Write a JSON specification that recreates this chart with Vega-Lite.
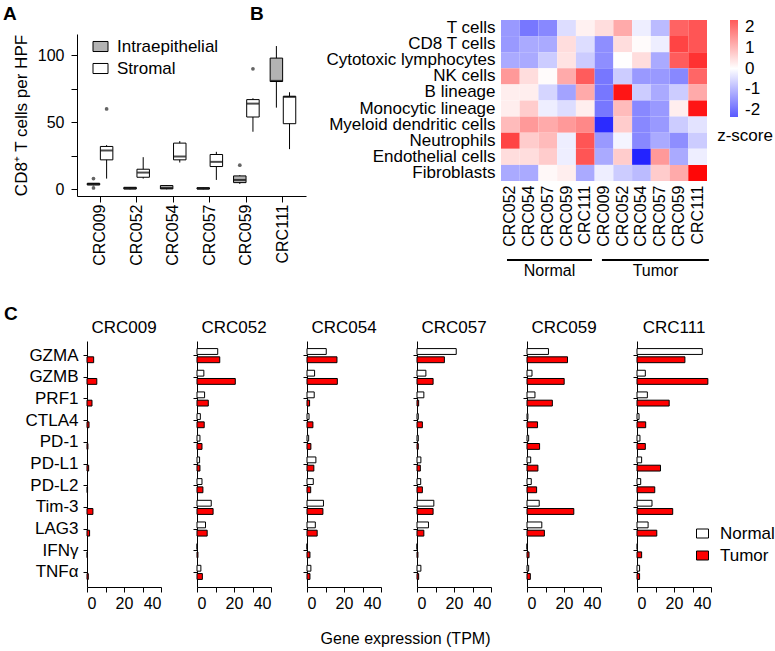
{
  "$schema": "https://vega.github.io/schema/vega-lite/v6.json",
  "background": "white",
  "padding": {"left": 3, "top": 4, "right": 0, "bottom": 0},
  "config": {
    "font": "Liberation Sans",
    "view": {"stroke": null},
    "axis": {"grid": false, "labelFontSize": 16, "titleFontSize": 17, "titleFontWeight": "normal", "labelColor": "black", "titleColor": "black", "domainColor": "black", "tickColor": "black", "titleLimit": 400},
    "legend": {"labelColor": "black", "titleColor": "black", "labelFontSize": 17, "titleFontSize": 17, "titleFontWeight": "normal", "padding": 0},
    "title": {"color": "black"}
  },
  "datasets": {
    "cd8box": [
      {"patient": "CRC009", "type": "Intraepithelial", "min": 3, "q1": 3.2, "med": 4, "q3": 4.5, "max": 4.5},
      {"patient": "CRC009", "type": "Stromal", "min": 8, "q1": 22, "med": 29, "q3": 32, "max": 33},
      {"patient": "CRC052", "type": "Intraepithelial", "min": 0, "q1": 0.2, "med": 0.8, "q3": 1.5, "max": 1.5},
      {"patient": "CRC052", "type": "Stromal", "min": 8, "q1": 9, "med": 12.5, "q3": 15, "max": 24},
      {"patient": "CRC054", "type": "Intraepithelial", "min": 0, "q1": 0.3, "med": 1, "q3": 2.8, "max": 3},
      {"patient": "CRC054", "type": "Stromal", "min": 20, "q1": 22, "med": 24.5, "q3": 34.5, "max": 36},
      {"patient": "CRC057", "type": "Intraepithelial", "min": 0, "q1": 0.2, "med": 0.6, "q3": 1.2, "max": 1.2},
      {"patient": "CRC057", "type": "Stromal", "min": 7, "q1": 17, "med": 20.5, "q3": 26, "max": 28},
      {"patient": "CRC059", "type": "Intraepithelial", "min": 4, "q1": 5, "med": 7, "q3": 10, "max": 10.5},
      {"patient": "CRC059", "type": "Stromal", "min": 43, "q1": 54, "med": 64, "q3": 67, "max": 68},
      {"patient": "CRC111", "type": "Intraepithelial", "min": 61, "q1": 80.5, "med": 81, "q3": 98, "max": 107},
      {"patient": "CRC111", "type": "Stromal", "min": 30, "q1": 49, "med": 69, "q3": 69.5, "max": 72.5}
    ],
    "outliers": [
      {"patient": "CRC009", "type": "Intraepithelial", "value": 8},
      {"patient": "CRC009", "type": "Intraepithelial", "value": 1},
      {"patient": "CRC009", "type": "Stromal", "value": 60},
      {"patient": "CRC059", "type": "Intraepithelial", "value": 18},
      {"patient": "CRC059", "type": "Stromal", "value": 90}
    ],
    "groups": [
      {"group": "Normal", "x0": 0.32, "x1": 4.86, "mid": 2.59},
      {"group": "Tumor", "x0": 5.39, "x1": 11.1, "mid": 8.25}
    ],
    "heat": [
      {"cell": "T cells", "sample": "N-CRC052", "z": -1.44}, {"cell": "T cells", "sample": "N-CRC054", "z": -1.92}, {"cell": "T cells", "sample": "N-CRC057", "z": -1.68}, {"cell": "T cells", "sample": "N-CRC059", "z": -0.48}, {"cell": "T cells", "sample": "N-CRC111", "z": 0.2}, {"cell": "T cells", "sample": "T-CRC009", "z": 0.48}, {"cell": "T cells", "sample": "T-CRC052", "z": 1.2}, {"cell": "T cells", "sample": "T-CRC054", "z": -0.24}, {"cell": "T cells", "sample": "T-CRC057", "z": -0.96}, {"cell": "T cells", "sample": "T-CRC059", "z": 2.2}, {"cell": "T cells", "sample": "T-CRC111", "z": 2.4},
      {"cell": "CD8 T cells", "sample": "N-CRC052", "z": -1.44}, {"cell": "CD8 T cells", "sample": "N-CRC054", "z": -1.2}, {"cell": "CD8 T cells", "sample": "N-CRC057", "z": -1.2}, {"cell": "CD8 T cells", "sample": "N-CRC059", "z": 0.48}, {"cell": "CD8 T cells", "sample": "N-CRC111", "z": -0.48}, {"cell": "CD8 T cells", "sample": "T-CRC009", "z": -1.6}, {"cell": "CD8 T cells", "sample": "T-CRC052", "z": 0.48}, {"cell": "CD8 T cells", "sample": "T-CRC054", "z": 0.05}, {"cell": "CD8 T cells", "sample": "T-CRC057", "z": -0.24}, {"cell": "CD8 T cells", "sample": "T-CRC059", "z": 2.64}, {"cell": "CD8 T cells", "sample": "T-CRC111", "z": 2.4},
      {"cell": "Cytotoxic lymphocytes", "sample": "N-CRC052", "z": -1.2}, {"cell": "Cytotoxic lymphocytes", "sample": "N-CRC054", "z": -1.2}, {"cell": "Cytotoxic lymphocytes", "sample": "N-CRC057", "z": -0.72}, {"cell": "Cytotoxic lymphocytes", "sample": "N-CRC059", "z": 0.4}, {"cell": "Cytotoxic lymphocytes", "sample": "N-CRC111", "z": -0.72}, {"cell": "Cytotoxic lymphocytes", "sample": "T-CRC009", "z": -1.6}, {"cell": "Cytotoxic lymphocytes", "sample": "T-CRC052", "z": 0.02}, {"cell": "Cytotoxic lymphocytes", "sample": "T-CRC054", "z": 0.48}, {"cell": "Cytotoxic lymphocytes", "sample": "T-CRC057", "z": -1.2}, {"cell": "Cytotoxic lymphocytes", "sample": "T-CRC059", "z": 2.3}, {"cell": "Cytotoxic lymphocytes", "sample": "T-CRC111", "z": 2.9},
      {"cell": "NK cells", "sample": "N-CRC052", "z": 1.44}, {"cell": "NK cells", "sample": "N-CRC054", "z": 0.48}, {"cell": "NK cells", "sample": "N-CRC057", "z": 0.05}, {"cell": "NK cells", "sample": "N-CRC059", "z": 1.2}, {"cell": "NK cells", "sample": "N-CRC111", "z": 2.3}, {"cell": "NK cells", "sample": "T-CRC009", "z": -1.92}, {"cell": "NK cells", "sample": "T-CRC052", "z": -0.72}, {"cell": "NK cells", "sample": "T-CRC054", "z": -1.44}, {"cell": "NK cells", "sample": "T-CRC057", "z": -1.44}, {"cell": "NK cells", "sample": "T-CRC059", "z": -1.68}, {"cell": "NK cells", "sample": "T-CRC111", "z": 2.16},
      {"cell": "B lineage", "sample": "N-CRC052", "z": 0.24}, {"cell": "B lineage", "sample": "N-CRC054", "z": 0.24}, {"cell": "B lineage", "sample": "N-CRC057", "z": -0.6}, {"cell": "B lineage", "sample": "N-CRC059", "z": -1.3}, {"cell": "B lineage", "sample": "N-CRC111", "z": 1.2}, {"cell": "B lineage", "sample": "T-CRC009", "z": -1.92}, {"cell": "B lineage", "sample": "T-CRC052", "z": 3.3}, {"cell": "B lineage", "sample": "T-CRC054", "z": -0.72}, {"cell": "B lineage", "sample": "T-CRC057", "z": -1.2}, {"cell": "B lineage", "sample": "T-CRC059", "z": -0.72}, {"cell": "B lineage", "sample": "T-CRC111", "z": 1.2},
      {"cell": "Monocytic lineage", "sample": "N-CRC052", "z": 0.24}, {"cell": "Monocytic lineage", "sample": "N-CRC054", "z": 0.72}, {"cell": "Monocytic lineage", "sample": "N-CRC057", "z": -0.24}, {"cell": "Monocytic lineage", "sample": "N-CRC059", "z": -0.48}, {"cell": "Monocytic lineage", "sample": "N-CRC111", "z": 0.24}, {"cell": "Monocytic lineage", "sample": "T-CRC009", "z": -1.92}, {"cell": "Monocytic lineage", "sample": "T-CRC052", "z": 0.96}, {"cell": "Monocytic lineage", "sample": "T-CRC054", "z": -1.68}, {"cell": "Monocytic lineage", "sample": "T-CRC057", "z": -1.44}, {"cell": "Monocytic lineage", "sample": "T-CRC059", "z": 0.24}, {"cell": "Monocytic lineage", "sample": "T-CRC111", "z": 3.3},
      {"cell": "Myeloid dendritic cells", "sample": "N-CRC052", "z": 0.96}, {"cell": "Myeloid dendritic cells", "sample": "N-CRC054", "z": 1.44}, {"cell": "Myeloid dendritic cells", "sample": "N-CRC057", "z": 1.2}, {"cell": "Myeloid dendritic cells", "sample": "N-CRC059", "z": 1.44}, {"cell": "Myeloid dendritic cells", "sample": "N-CRC111", "z": 1.68}, {"cell": "Myeloid dendritic cells", "sample": "T-CRC009", "z": -3.0}, {"cell": "Myeloid dendritic cells", "sample": "T-CRC052", "z": 0.72}, {"cell": "Myeloid dendritic cells", "sample": "T-CRC054", "z": -1.68}, {"cell": "Myeloid dendritic cells", "sample": "T-CRC057", "z": -1.44}, {"cell": "Myeloid dendritic cells", "sample": "T-CRC059", "z": -0.72}, {"cell": "Myeloid dendritic cells", "sample": "T-CRC111", "z": -0.4},
      {"cell": "Neutrophils", "sample": "N-CRC052", "z": 2.64}, {"cell": "Neutrophils", "sample": "N-CRC054", "z": 0.72}, {"cell": "Neutrophils", "sample": "N-CRC057", "z": 0.96}, {"cell": "Neutrophils", "sample": "N-CRC059", "z": -0.24}, {"cell": "Neutrophils", "sample": "N-CRC111", "z": 2.4}, {"cell": "Neutrophils", "sample": "T-CRC009", "z": -1.44}, {"cell": "Neutrophils", "sample": "T-CRC052", "z": -0.15}, {"cell": "Neutrophils", "sample": "T-CRC054", "z": -1.68}, {"cell": "Neutrophils", "sample": "T-CRC057", "z": -1.2}, {"cell": "Neutrophils", "sample": "T-CRC059", "z": -1.6}, {"cell": "Neutrophils", "sample": "T-CRC111", "z": -0.72},
      {"cell": "Endothelial cells", "sample": "N-CRC052", "z": 0.48}, {"cell": "Endothelial cells", "sample": "N-CRC054", "z": 0.48}, {"cell": "Endothelial cells", "sample": "N-CRC057", "z": 0.72}, {"cell": "Endothelial cells", "sample": "N-CRC059", "z": -0.24}, {"cell": "Endothelial cells", "sample": "N-CRC111", "z": 2.4}, {"cell": "Endothelial cells", "sample": "T-CRC009", "z": -1.2}, {"cell": "Endothelial cells", "sample": "T-CRC052", "z": 0.72}, {"cell": "Endothelial cells", "sample": "T-CRC054", "z": -3.1}, {"cell": "Endothelial cells", "sample": "T-CRC057", "z": 1.44}, {"cell": "Endothelial cells", "sample": "T-CRC059", "z": -1.2}, {"cell": "Endothelial cells", "sample": "T-CRC111", "z": -0.24},
      {"cell": "Fibroblasts", "sample": "N-CRC052", "z": -1.2}, {"cell": "Fibroblasts", "sample": "N-CRC054", "z": -1.2}, {"cell": "Fibroblasts", "sample": "N-CRC057", "z": 0.1}, {"cell": "Fibroblasts", "sample": "N-CRC059", "z": 0.24}, {"cell": "Fibroblasts", "sample": "N-CRC111", "z": -1.2}, {"cell": "Fibroblasts", "sample": "T-CRC009", "z": -0.24}, {"cell": "Fibroblasts", "sample": "T-CRC052", "z": -0.72}, {"cell": "Fibroblasts", "sample": "T-CRC054", "z": -0.96}, {"cell": "Fibroblasts", "sample": "T-CRC057", "z": 0.72}, {"cell": "Fibroblasts", "sample": "T-CRC059", "z": 1.2}, {"cell": "Fibroblasts", "sample": "T-CRC111", "z": 3.5}
    ],
    "genes": [
      {"patient": "CRC009", "gene": "GZMA", "tissue": "Tumor", "tpm": 3.6},
      {"patient": "CRC009", "gene": "GZMB", "tissue": "Tumor", "tpm": 5.3},
      {"patient": "CRC009", "gene": "PRF1", "tissue": "Tumor", "tpm": 2.7},
      {"patient": "CRC009", "gene": "CTLA4", "tissue": "Tumor", "tpm": 1.1},
      {"patient": "CRC009", "gene": "PD-1", "tissue": "Tumor", "tpm": 0.5},
      {"patient": "CRC009", "gene": "PD-L1", "tissue": "Tumor", "tpm": 0.9},
      {"patient": "CRC009", "gene": "PD-L2", "tissue": "Tumor", "tpm": 0.3},
      {"patient": "CRC009", "gene": "Tim-3", "tissue": "Tumor", "tpm": 3.2},
      {"patient": "CRC009", "gene": "LAG3", "tissue": "Tumor", "tpm": 1.4},
      {"patient": "CRC009", "gene": "IFNγ", "tissue": "Tumor", "tpm": 0.2},
      {"patient": "CRC009", "gene": "TNFα", "tissue": "Tumor", "tpm": 0.7},
      {"patient": "CRC052", "gene": "GZMA", "tissue": "Normal", "tpm": 11.2}, {"patient": "CRC052", "gene": "GZMA", "tissue": "Tumor", "tpm": 12.3},
      {"patient": "CRC052", "gene": "GZMB", "tissue": "Normal", "tpm": 3.7}, {"patient": "CRC052", "gene": "GZMB", "tissue": "Tumor", "tpm": 20.7},
      {"patient": "CRC052", "gene": "PRF1", "tissue": "Normal", "tpm": 4.1}, {"patient": "CRC052", "gene": "PRF1", "tissue": "Tumor", "tpm": 6.1},
      {"patient": "CRC052", "gene": "CTLA4", "tissue": "Normal", "tpm": 1.8}, {"patient": "CRC052", "gene": "CTLA4", "tissue": "Tumor", "tpm": 3.9},
      {"patient": "CRC052", "gene": "PD-1", "tissue": "Normal", "tpm": 1.6}, {"patient": "CRC052", "gene": "PD-1", "tissue": "Tumor", "tpm": 2.7},
      {"patient": "CRC052", "gene": "PD-L1", "tissue": "Normal", "tpm": 1.4}, {"patient": "CRC052", "gene": "PD-L1", "tissue": "Tumor", "tpm": 1.6},
      {"patient": "CRC052", "gene": "PD-L2", "tissue": "Normal", "tpm": 2.7}, {"patient": "CRC052", "gene": "PD-L2", "tissue": "Tumor", "tpm": 3.2},
      {"patient": "CRC052", "gene": "Tim-3", "tissue": "Normal", "tpm": 7.7}, {"patient": "CRC052", "gene": "Tim-3", "tissue": "Tumor", "tpm": 8.7},
      {"patient": "CRC052", "gene": "LAG3", "tissue": "Normal", "tpm": 4.6}, {"patient": "CRC052", "gene": "LAG3", "tissue": "Tumor", "tpm": 5.5},
      {"patient": "CRC052", "gene": "IFNγ", "tissue": "Normal", "tpm": 0.05}, {"patient": "CRC052", "gene": "IFNγ", "tissue": "Tumor", "tpm": 0.5},
      {"patient": "CRC052", "gene": "TNFα", "tissue": "Normal", "tpm": 2.1}, {"patient": "CRC052", "gene": "TNFα", "tissue": "Tumor", "tpm": 2.9},
      {"patient": "CRC054", "gene": "GZMA", "tissue": "Normal", "tpm": 10.4}, {"patient": "CRC054", "gene": "GZMA", "tissue": "Tumor", "tpm": 16.2},
      {"patient": "CRC054", "gene": "GZMB", "tissue": "Normal", "tpm": 4.1}, {"patient": "CRC054", "gene": "GZMB", "tissue": "Tumor", "tpm": 16.4},
      {"patient": "CRC054", "gene": "PRF1", "tissue": "Normal", "tpm": 3.9}, {"patient": "CRC054", "gene": "PRF1", "tissue": "Tumor", "tpm": 1.4},
      {"patient": "CRC054", "gene": "CTLA4", "tissue": "Normal", "tpm": 1.1}, {"patient": "CRC054", "gene": "CTLA4", "tissue": "Tumor", "tpm": 3.2},
      {"patient": "CRC054", "gene": "PD-1", "tissue": "Normal", "tpm": 0.9}, {"patient": "CRC054", "gene": "PD-1", "tissue": "Tumor", "tpm": 2.1},
      {"patient": "CRC054", "gene": "PD-L1", "tissue": "Normal", "tpm": 4.8}, {"patient": "CRC054", "gene": "PD-L1", "tissue": "Tumor", "tpm": 3.7},
      {"patient": "CRC054", "gene": "PD-L2", "tissue": "Normal", "tpm": 3.4}, {"patient": "CRC054", "gene": "PD-L2", "tissue": "Tumor", "tpm": 2.0},
      {"patient": "CRC054", "gene": "Tim-3", "tissue": "Normal", "tpm": 8.9}, {"patient": "CRC054", "gene": "Tim-3", "tissue": "Tumor", "tpm": 8.6},
      {"patient": "CRC054", "gene": "LAG3", "tissue": "Normal", "tpm": 4.5}, {"patient": "CRC054", "gene": "LAG3", "tissue": "Tumor", "tpm": 5.5},
      {"patient": "CRC054", "gene": "IFNγ", "tissue": "Normal", "tpm": 0}, {"patient": "CRC054", "gene": "IFNγ", "tissue": "Tumor", "tpm": 1.6},
      {"patient": "CRC054", "gene": "TNFα", "tissue": "Normal", "tpm": 2.1}, {"patient": "CRC054", "gene": "TNFα", "tissue": "Tumor", "tpm": 1.6},
      {"patient": "CRC057", "gene": "GZMA", "tissue": "Normal", "tpm": 21.2}, {"patient": "CRC057", "gene": "GZMA", "tissue": "Tumor", "tpm": 14.8},
      {"patient": "CRC057", "gene": "GZMB", "tissue": "Normal", "tpm": 4.8}, {"patient": "CRC057", "gene": "GZMB", "tissue": "Tumor", "tpm": 8.7},
      {"patient": "CRC057", "gene": "PRF1", "tissue": "Normal", "tpm": 3.7}, {"patient": "CRC057", "gene": "PRF1", "tissue": "Tumor", "tpm": 0.9},
      {"patient": "CRC057", "gene": "CTLA4", "tissue": "Normal", "tpm": 0.7}, {"patient": "CRC057", "gene": "CTLA4", "tissue": "Tumor", "tpm": 2.9},
      {"patient": "CRC057", "gene": "PD-1", "tissue": "Normal", "tpm": 0.7}, {"patient": "CRC057", "gene": "PD-1", "tissue": "Tumor", "tpm": 0.7},
      {"patient": "CRC057", "gene": "PD-L1", "tissue": "Normal", "tpm": 2.1}, {"patient": "CRC057", "gene": "PD-L1", "tissue": "Tumor", "tpm": 1.8},
      {"patient": "CRC057", "gene": "PD-L2", "tissue": "Normal", "tpm": 2.0}, {"patient": "CRC057", "gene": "PD-L2", "tissue": "Tumor", "tpm": 2.9},
      {"patient": "CRC057", "gene": "Tim-3", "tissue": "Normal", "tpm": 9.1}, {"patient": "CRC057", "gene": "Tim-3", "tissue": "Tumor", "tpm": 8.7},
      {"patient": "CRC057", "gene": "LAG3", "tissue": "Normal", "tpm": 6.2}, {"patient": "CRC057", "gene": "LAG3", "tissue": "Tumor", "tpm": 3.7},
      {"patient": "CRC057", "gene": "IFNγ", "tissue": "Normal", "tpm": 0}, {"patient": "CRC057", "gene": "IFNγ", "tissue": "Tumor", "tpm": 0.5},
      {"patient": "CRC057", "gene": "TNFα", "tissue": "Normal", "tpm": 2.1}, {"patient": "CRC057", "gene": "TNFα", "tissue": "Tumor", "tpm": 0.9},
      {"patient": "CRC059", "gene": "GZMA", "tissue": "Normal", "tpm": 11.6}, {"patient": "CRC059", "gene": "GZMA", "tissue": "Tumor", "tpm": 21.9},
      {"patient": "CRC059", "gene": "GZMB", "tissue": "Normal", "tpm": 2.7}, {"patient": "CRC059", "gene": "GZMB", "tissue": "Tumor", "tpm": 20.1},
      {"patient": "CRC059", "gene": "PRF1", "tissue": "Normal", "tpm": 4.3}, {"patient": "CRC059", "gene": "PRF1", "tissue": "Tumor", "tpm": 13.7},
      {"patient": "CRC059", "gene": "CTLA4", "tissue": "Normal", "tpm": 0.5}, {"patient": "CRC059", "gene": "CTLA4", "tissue": "Tumor", "tpm": 5.7},
      {"patient": "CRC059", "gene": "PD-1", "tissue": "Normal", "tpm": 0.9}, {"patient": "CRC059", "gene": "PD-1", "tissue": "Tumor", "tpm": 6.8},
      {"patient": "CRC059", "gene": "PD-L1", "tissue": "Normal", "tpm": 2.0}, {"patient": "CRC059", "gene": "PD-L1", "tissue": "Tumor", "tpm": 5.9},
      {"patient": "CRC059", "gene": "PD-L2", "tissue": "Normal", "tpm": 2.3}, {"patient": "CRC059", "gene": "PD-L2", "tissue": "Tumor", "tpm": 5.2},
      {"patient": "CRC059", "gene": "Tim-3", "tissue": "Normal", "tpm": 6.6}, {"patient": "CRC059", "gene": "Tim-3", "tissue": "Tumor", "tpm": 25.3},
      {"patient": "CRC059", "gene": "LAG3", "tissue": "Normal", "tpm": 8.0}, {"patient": "CRC059", "gene": "LAG3", "tissue": "Tumor", "tpm": 9.4},
      {"patient": "CRC059", "gene": "IFNγ", "tissue": "Normal", "tpm": 0}, {"patient": "CRC059", "gene": "IFNγ", "tissue": "Tumor", "tpm": 1.1},
      {"patient": "CRC059", "gene": "TNFα", "tissue": "Normal", "tpm": 0.9}, {"patient": "CRC059", "gene": "TNFα", "tissue": "Tumor", "tpm": 1.8},
      {"patient": "CRC111", "gene": "GZMA", "tissue": "Normal", "tpm": 35.3}, {"patient": "CRC111", "gene": "GZMA", "tissue": "Tumor", "tpm": 25.9},
      {"patient": "CRC111", "gene": "GZMB", "tissue": "Normal", "tpm": 4.5}, {"patient": "CRC111", "gene": "GZMB", "tissue": "Tumor", "tpm": 38.3},
      {"patient": "CRC111", "gene": "PRF1", "tissue": "Normal", "tpm": 5.6}, {"patient": "CRC111", "gene": "PRF1", "tissue": "Tumor", "tpm": 17.4},
      {"patient": "CRC111", "gene": "CTLA4", "tissue": "Normal", "tpm": 1.1}, {"patient": "CRC111", "gene": "CTLA4", "tissue": "Tumor", "tpm": 4.7},
      {"patient": "CRC111", "gene": "PD-1", "tissue": "Normal", "tpm": 1.6}, {"patient": "CRC111", "gene": "PD-1", "tissue": "Tumor", "tpm": 4.5},
      {"patient": "CRC111", "gene": "PD-L1", "tissue": "Normal", "tpm": 2.5}, {"patient": "CRC111", "gene": "PD-L1", "tissue": "Tumor", "tpm": 12.7},
      {"patient": "CRC111", "gene": "PD-L2", "tissue": "Normal", "tpm": 2.0}, {"patient": "CRC111", "gene": "PD-L2", "tissue": "Tumor", "tpm": 9.6},
      {"patient": "CRC111", "gene": "Tim-3", "tissue": "Normal", "tpm": 8.1}, {"patient": "CRC111", "gene": "Tim-3", "tissue": "Tumor", "tpm": 19.3},
      {"patient": "CRC111", "gene": "LAG3", "tissue": "Normal", "tpm": 6.0}, {"patient": "CRC111", "gene": "LAG3", "tissue": "Tumor", "tpm": 10.7},
      {"patient": "CRC111", "gene": "IFNγ", "tissue": "Normal", "tpm": 0.2}, {"patient": "CRC111", "gene": "IFNγ", "tissue": "Tumor", "tpm": 2.5},
      {"patient": "CRC111", "gene": "TNFα", "tissue": "Normal", "tpm": 1.4}, {"patient": "CRC111", "gene": "TNFα", "tissue": "Tumor", "tpm": 1.4}
    ]
  },
  "spacing": 26,
  "resolve": {"scale": {"fill": "independent", "x": "independent", "y": "independent"}, "legend": {"fill": "independent"}},
  "vconcat": [
    {
      "spacing": -56,
      "resolve": {"scale": {"fill": "independent", "x": "independent", "y": "independent"}, "legend": {"fill": "independent"}},
      "hconcat": [
        {
          "width": 229, "height": 176,
          "title": {"text": "A", "anchor": "start", "frame": "group", "fontSize": 19, "fontWeight": "bold", "offset": -4, "dx": -74},
          "encoding": {
            "x": {"field": "patient", "type": "nominal", "scale": {"domain": ["CRC009", "CRC052", "CRC054", "CRC057", "CRC059", "CRC111"], "paddingInner": 0.3, "paddingOuter": 0.28}, "axis": {"title": null, "labelAngle": -90, "tickSize": 6, "labelPadding": 2, "labelFontSize": 16}},
            "xOffset": {"field": "type", "scale": {"domain": ["Intraepithelial", "Stromal"], "paddingInner": 0.05, "paddingOuter": 0}}
          },
          "layer": [
            {
              "data": {"name": "cd8box"},
              "mark": {"type": "rule", "color": "black", "strokeWidth": 1},
              "encoding": {
                "y": {"field": "min", "type": "quantitative", "scale": {"domain": [-5, 116], "range": [176, 14], "nice": false, "zero": false}, "axis": {"title": "CD8⁺ T cells per HPF", "values": [0, 25, 50, 75, 100], "labelExpr": "datum.value % 50 == 0 ? datum.label : ''", "tickSize": 6, "labelPadding": 7, "titlePadding": 7, "titleFontSize": 17, "labelFontSize": 16}},
                "y2": {"field": "max"}
              }
            },
            {
              "data": {"name": "cd8box"},
              "mark": {"type": "bar", "stroke": "black", "strokeWidth": 1},
              "encoding": {
                "y": {"field": "q1", "type": "quantitative"},
                "y2": {"field": "q3"},
                "fill": {"field": "type", "type": "nominal", "scale": {"domain": ["Intraepithelial", "Stromal"], "range": ["#b3b3b3", "#ffffff"]},
                  "legend": {"orient": "none", "legendX": 15, "legendY": 18, "title": null, "symbolType": "M-1,-0.67H1V0.67H-1Z", "symbolSize": 225, "symbolStrokeColor": "black", "symbolStrokeWidth": 1, "labelFontSize": 17, "labelOffset": 8, "rowPadding": 4}}
              }
            },
            {
              "data": {"name": "cd8box"},
              "mark": {"type": "tick", "color": "black", "thickness": 2, "size": 12},
              "encoding": {"y": {"field": "med", "type": "quantitative"}}
            },
            {
              "data": {"name": "outliers"},
              "mark": {"type": "point", "filled": true, "color": "#222222", "size": 14},
              "encoding": {"y": {"field": "value", "type": "quantitative"}}
            }
          ]
        },
        {
          "bounds": "flush",
          "spacing": 79,
          "vconcat": [
            {
              "width": 206, "height": 161,
              "title": {"text": "B", "anchor": "start", "frame": "group", "fontSize": 19, "fontWeight": "bold", "offset": -5, "dx": -251},
              "data": {"name": "heat"},
              "mark": {"type": "rect"},
              "encoding": {
                "x": {"field": "sample", "type": "nominal", "sort": null, "axis": {"title": null, "labelAngle": -90, "labelExpr": "split(datum.label, '-')[1]", "ticks": false, "domain": false, "labelPadding": 4, "labelFontSize": 16}},
                "y": {"field": "cell", "type": "nominal", "sort": null, "axis": {"title": null, "ticks": false, "domain": false, "labelPadding": 6, "labelFontSize": 17}},
                "fill": {"field": "z", "type": "quantitative",
                  "scale": {"domain": [-2.33, 0, 2.33], "range": ["#5a5aff", "#ffffff", "#ff5a5a"], "interpolate": "rgb", "clamp": false, "nice": false, "zero": false},
                  "legend": {"orient": "right", "offset": 7, "title": "z-score", "titleOrient": "bottom", "titleAnchor": "middle", "titlePadding": 10, "titleFontSize": 17, "gradientLength": 97, "gradientThickness": 8, "gradientStrokeWidth": 0, "labelFontSize": 17, "labelOffset": 7, "labelOverlap": false, "values": [-2, -1, 0, 1, 2], "labelExpr": "datum.value < 0 ? '-' + abs(datum.value) : '' + datum.value"}}
              }
            },
            {
              "width": 206, "height": 19,
              "data": {"name": "groups"},
              "layer": [
                {
                  "mark": {"type": "rule", "color": "black", "strokeWidth": 2},
                  "encoding": {
                    "x": {"field": "x0", "type": "quantitative", "scale": {"domain": [0, 11], "nice": false, "zero": false}, "axis": null},
                    "x2": {"field": "x1"},
                    "y": {"datum": 1, "type": "quantitative", "scale": {"domain": [0, 1]}, "axis": null}
                  }
                },
                {
                  "mark": {"type": "text", "fontSize": 16, "baseline": "bottom", "color": "black"},
                  "encoding": {
                    "x": {"field": "mid", "type": "quantitative"},
                    "y": {"datum": 0, "type": "quantitative"},
                    "text": {"field": "group"}
                  }
                }
              ]
            }
          ]
        }
      ]
    },
    {
      "title": {"text": "Gene expression (TPM)", "orient": "bottom", "anchor": "middle", "fontSize": 16, "fontWeight": "normal", "offset": 20, "dx": 16},
      "resolve": {"scale": {"fill": "independent"}, "legend": {"fill": "independent"}},
      "vconcat": [
        {
          "title": {"text": "C", "anchor": "start", "frame": "bounds", "fontSize": 19, "fontWeight": "bold", "offset": -5, "dx": -21},
          "spacing": 30,
          "resolve": {"scale": {"fill": "independent", "x": "independent", "y": "independent"}, "legend": {"fill": "independent"}},
          "hconcat": [
            {
              "width": 84, "height": 246,
              "title": {"text": "CRC009", "fontSize": 17, "fontWeight": "normal", "offset": 4, "anchor": "middle", "frame": "group", "dx": 5},
              "data": {"name": "genes"},
              "transform": [{"filter": "datum.patient == 'CRC009'"}],
              "mark": {"type": "bar", "stroke": "black", "strokeWidth": 1},
              "encoding": {
                "y": {"field": "gene", "type": "nominal", "scale": {"domain": ["GZMA", "GZMB", "PRF1", "CTLA4", "PD-1", "PD-L1", "PD-L2", "Tim-3", "LAG3", "IFNγ", "TNFα"], "paddingInner": 0.35, "paddingOuter": 0.35}, "axis": {"title": null, "tickSize": 4, "labelPadding": 5, "labelFontSize": 17, "offset": -10}},
                "yOffset": {"field": "tissue", "scale": {"domain": ["Normal", "Tumor"], "paddingInner": 0.29, "paddingOuter": 0}},
                "x": {"field": "tpm", "type": "quantitative", "scale": {"domain": [0, 40], "range": [10, 84], "nice": false}, "axis": {"title": null, "values": [0, 10, 20, 30, 40], "labelExpr": "datum.value % 20 == 0 ? datum.label : ''", "tickSize": 5, "labelPadding": 3, "labelFontSize": 16}},
                "fill": {"field": "tissue", "type": "nominal", "scale": {"domain": ["Normal", "Tumor"], "range": ["#ffffff", "#ff0000"]}, "legend": null}
              }
            },
            {
              "width": 74, "height": 246,
              "title": {"text": "CRC052", "fontSize": 17, "fontWeight": "normal", "offset": 4, "anchor": "middle", "frame": "group"},
              "data": {"name": "genes"},
              "transform": [{"filter": "datum.patient == 'CRC052'"}],
              "mark": {"type": "bar", "stroke": "black", "strokeWidth": 1},
              "encoding": {
                "y": {"field": "gene", "type": "nominal", "scale": {"domain": ["GZMA", "GZMB", "PRF1", "CTLA4", "PD-1", "PD-L1", "PD-L2", "Tim-3", "LAG3", "IFNγ", "TNFα"], "paddingInner": 0.35, "paddingOuter": 0.35}, "axis": {"title": null, "labels": false, "tickSize": 4}},
                "yOffset": {"field": "tissue", "scale": {"domain": ["Normal", "Tumor"], "paddingInner": 0.29, "paddingOuter": 0}},
                "x": {"field": "tpm", "type": "quantitative", "scale": {"domain": [0, 40], "nice": false}, "axis": {"title": null, "values": [0, 10, 20, 30, 40], "labelExpr": "datum.value % 20 == 0 ? datum.label : ''", "tickSize": 5, "labelPadding": 3, "labelFontSize": 16}},
                "fill": {"field": "tissue", "type": "nominal", "scale": {"domain": ["Normal", "Tumor"], "range": ["#ffffff", "#ff0000"]}, "legend": null}
              }
            },
            {
              "width": 74, "height": 246,
              "title": {"text": "CRC054", "fontSize": 17, "fontWeight": "normal", "offset": 4, "anchor": "middle", "frame": "group"},
              "data": {"name": "genes"},
              "transform": [{"filter": "datum.patient == 'CRC054'"}],
              "mark": {"type": "bar", "stroke": "black", "strokeWidth": 1},
              "encoding": {
                "y": {"field": "gene", "type": "nominal", "scale": {"domain": ["GZMA", "GZMB", "PRF1", "CTLA4", "PD-1", "PD-L1", "PD-L2", "Tim-3", "LAG3", "IFNγ", "TNFα"], "paddingInner": 0.35, "paddingOuter": 0.35}, "axis": {"title": null, "labels": false, "tickSize": 4}},
                "yOffset": {"field": "tissue", "scale": {"domain": ["Normal", "Tumor"], "paddingInner": 0.29, "paddingOuter": 0}},
                "x": {"field": "tpm", "type": "quantitative", "scale": {"domain": [0, 40], "nice": false}, "axis": {"title": null, "values": [0, 10, 20, 30, 40], "labelExpr": "datum.value % 20 == 0 ? datum.label : ''", "tickSize": 5, "labelPadding": 3, "labelFontSize": 16}},
                "fill": {"field": "tissue", "type": "nominal", "scale": {"domain": ["Normal", "Tumor"], "range": ["#ffffff", "#ff0000"]}, "legend": null}
              }
            },
            {
              "width": 74, "height": 246,
              "title": {"text": "CRC057", "fontSize": 17, "fontWeight": "normal", "offset": 4, "anchor": "middle", "frame": "group"},
              "data": {"name": "genes"},
              "transform": [{"filter": "datum.patient == 'CRC057'"}],
              "mark": {"type": "bar", "stroke": "black", "strokeWidth": 1},
              "encoding": {
                "y": {"field": "gene", "type": "nominal", "scale": {"domain": ["GZMA", "GZMB", "PRF1", "CTLA4", "PD-1", "PD-L1", "PD-L2", "Tim-3", "LAG3", "IFNγ", "TNFα"], "paddingInner": 0.35, "paddingOuter": 0.35}, "axis": {"title": null, "labels": false, "tickSize": 4}},
                "yOffset": {"field": "tissue", "scale": {"domain": ["Normal", "Tumor"], "paddingInner": 0.29, "paddingOuter": 0}},
                "x": {"field": "tpm", "type": "quantitative", "scale": {"domain": [0, 40], "nice": false}, "axis": {"title": null, "values": [0, 10, 20, 30, 40], "labelExpr": "datum.value % 20 == 0 ? datum.label : ''", "tickSize": 5, "labelPadding": 3, "labelFontSize": 16}},
                "fill": {"field": "tissue", "type": "nominal", "scale": {"domain": ["Normal", "Tumor"], "range": ["#ffffff", "#ff0000"]}, "legend": null}
              }
            },
            {
              "width": 74, "height": 246,
              "title": {"text": "CRC059", "fontSize": 17, "fontWeight": "normal", "offset": 4, "anchor": "middle", "frame": "group"},
              "data": {"name": "genes"},
              "transform": [{"filter": "datum.patient == 'CRC059'"}],
              "mark": {"type": "bar", "stroke": "black", "strokeWidth": 1},
              "encoding": {
                "y": {"field": "gene", "type": "nominal", "scale": {"domain": ["GZMA", "GZMB", "PRF1", "CTLA4", "PD-1", "PD-L1", "PD-L2", "Tim-3", "LAG3", "IFNγ", "TNFα"], "paddingInner": 0.35, "paddingOuter": 0.35}, "axis": {"title": null, "labels": false, "tickSize": 4}},
                "yOffset": {"field": "tissue", "scale": {"domain": ["Normal", "Tumor"], "paddingInner": 0.29, "paddingOuter": 0}},
                "x": {"field": "tpm", "type": "quantitative", "scale": {"domain": [0, 40], "nice": false}, "axis": {"title": null, "values": [0, 10, 20, 30, 40], "labelExpr": "datum.value % 20 == 0 ? datum.label : ''", "tickSize": 5, "labelPadding": 3, "labelFontSize": 16}},
                "fill": {"field": "tissue", "type": "nominal", "scale": {"domain": ["Normal", "Tumor"], "range": ["#ffffff", "#ff0000"]}, "legend": null}
              }
            },
            {
              "width": 74, "height": 246,
              "title": {"text": "CRC111", "fontSize": 17, "fontWeight": "normal", "offset": 4, "anchor": "middle", "frame": "group"},
              "data": {"name": "genes"},
              "transform": [{"filter": "datum.patient == 'CRC111'"}],
              "mark": {"type": "bar", "stroke": "black", "strokeWidth": 1},
              "encoding": {
                "y": {"field": "gene", "type": "nominal", "scale": {"domain": ["GZMA", "GZMB", "PRF1", "CTLA4", "PD-1", "PD-L1", "PD-L2", "Tim-3", "LAG3", "IFNγ", "TNFα"], "paddingInner": 0.35, "paddingOuter": 0.35}, "axis": {"title": null, "labels": false, "tickSize": 4}},
                "yOffset": {"field": "tissue", "scale": {"domain": ["Normal", "Tumor"], "paddingInner": 0.29, "paddingOuter": 0}},
                "x": {"field": "tpm", "type": "quantitative", "scale": {"domain": [0, 40], "nice": false}, "axis": {"title": null, "values": [0, 10, 20, 30, 40], "labelExpr": "datum.value % 20 == 0 ? datum.label : ''", "tickSize": 5, "labelPadding": 3, "labelFontSize": 16}},
                "fill": {"field": "tissue", "type": "nominal", "scale": {"domain": ["Normal", "Tumor"], "range": ["#ffffff", "#ff0000"]},
                  "legend": {"orient": "none", "legendX": 57, "legendY": 184, "title": null, "symbolType": "M-1,-0.75H1V0.75H-1Z", "symbolSize": 144, "symbolStrokeColor": "black", "symbolStrokeWidth": 1, "labelFontSize": 17, "labelOffset": 9, "rowPadding": 4}}
              }
            }
          ]
        }
      ]
    }
  ]
}
